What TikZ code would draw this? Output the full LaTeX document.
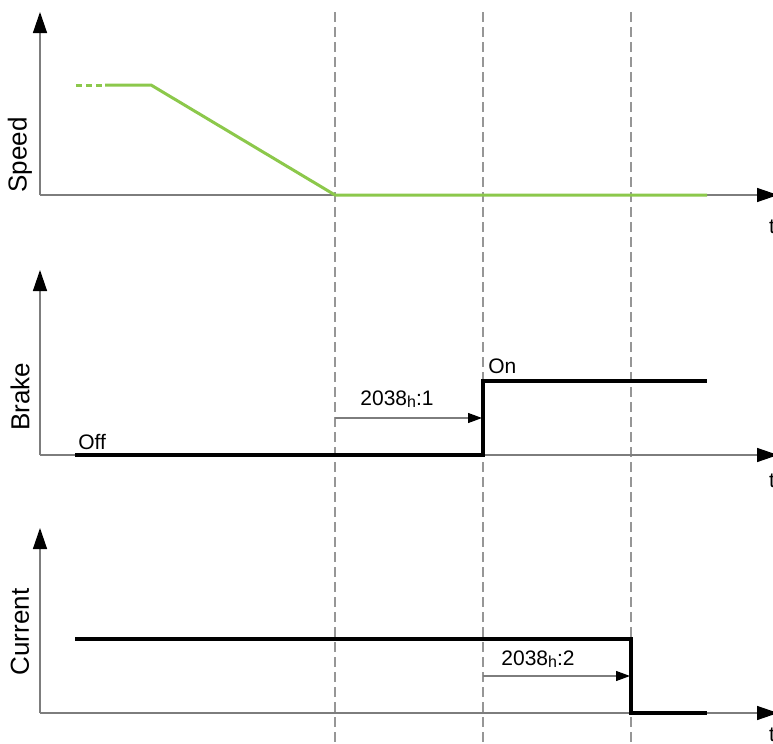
\documentclass[tikz,border=0pt]{standalone}
\usepackage{fontspec}
\setmainfont{Liberation Sans}
\usetikzlibrary{arrows.meta}
\definecolor{speedgreen}{RGB}{140,200,75}
\definecolor{axisgray}{RGB}{125,125,125}
\definecolor{gridgray}{RGB}{150,150,150}

\begin{document}
\begin{tikzpicture}[x=0.5pt, y=-0.5pt, line join=miter,
    >={Triangle[length=10.5pt, width=7pt, color=black]},
    axis/.style={axisgray, line width=0.7pt},
    ylabel/.style={rotate=90, inner sep=0pt, font=\fontsize{13pt}{15pt}\selectfont},
    tlabel/.style={anchor=base, inner sep=0pt, font=\fontsize{10.5pt}{12pt}\selectfont},
    txt/.style={anchor=base west, inner sep=0pt, font=\fontsize{10.5pt}{12pt}\selectfont},
    delay/.style={axisgray, line width=0.6pt, -{Triangle[length=7pt, width=5pt, color=black]}, shorten >=0.5pt},
    signal/.style={line width=1.8pt},
    marker/.style={gridgray, line width=0.6pt, dash pattern=on 5pt off 2.5pt}]
    \useasboundingbox (0,0) rectangle (773,744);

    % instants
    \foreach \x in {335,483,631}
      \draw[marker] (\x,12) -- (\x,744);

    % axes
    \foreach \name/\y/\top/\ty in {speed/195/12/233, brake/455/270/487, current/713/528/741} {
      \coordinate (\name O) at (40,\y);
      \draw[axis, ->] (\name O) -- (40,\top);
      \draw[axis, ->] (\name O) -- (778,\y);
      \node[tlabel] (\name t) at (772,\ty) {t};
    }
    \node[ylabel] (speedlabel) at (20,155) {Speed};
    \node[ylabel] (brakelabel) at (20,397) {Brake};
    \node[ylabel] (currentlabel) at (20,632) {Current};

    % speed
    \draw[speedgreen, line width=1.5pt, dash pattern=on 3pt off 2pt] (76,85) -- (105,85);
    \draw[speedgreen, line width=1.5pt] (105,85) -- (151,85) -- (335,195) -- (707,195);

    % brake
    \draw[signal] (75,455) -- (483,455) -- (483,381) -- (707,381);
    \node[txt] (off) at (78,449) {Off};
    \node[txt] (on) at (488,373) {On};
    \coordinate (d1s) at (335,418);
    \coordinate (d1e) at (483,418);
    \draw[delay] (d1s) -- (d1e);
    \node[txt] (d1) at (360,405) {2038{\fontsize{8pt}{9pt}\selectfont\raisebox{-0.3ex}{h}}:1};

    % current
    \draw[signal] (75,639) -- (631,639) -- (631,713) -- (707,713);
    \coordinate (d2s) at (483,676);
    \coordinate (d2e) at (631,676);
    \draw[delay] (d2s) -- (d2e);
    \node[txt] (d2) at (501,665) {2038{\fontsize{8pt}{9pt}\selectfont\raisebox{-0.3ex}{h}}:2};
\end{tikzpicture}
\end{document}
